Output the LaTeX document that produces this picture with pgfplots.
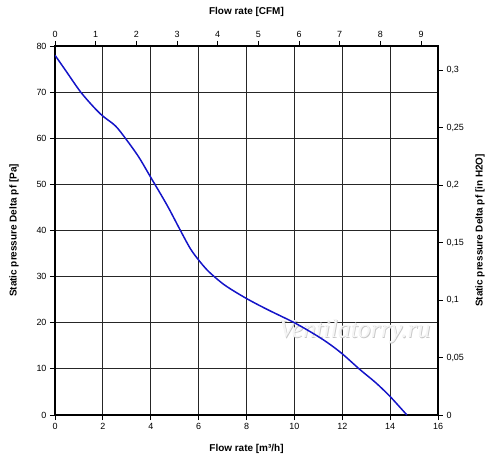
\documentclass[border=0pt]{standalone}
\usepackage{pgfplots}
\pgfplotsset{compat=1.18}
\usepackage{fontspec}
\setmainfont{Liberation Sans}
\newfontfamily\wmfont{Liberation Serif}
\definecolor{curveblue}{RGB}{20,20,200}
\begin{document}
\begin{tikzpicture}
\useasboundingbox (-55bp,-52bp) rectangle (445bp,415bp);
\pgfplotsset{
  common/.style={
    scale only axis, width=383bp, height=369bp,
    /pgf/number format/assume math mode=true,
    tick align=outside,
    major tick length=5bp,
    tick style={black, line width=0.8pt},
    axis line style={-, line width=1.5pt},
    ticklabel style={font=\fontsize{9}{10}\selectfont},
    label style={font=\bfseries\fontsize{10}{12}\selectfont},
  }
}
\begin{axis}[common,
  xmin=0, xmax=16, ymin=0, ymax=80,
  xtick={0,2,...,16}, ytick={0,10,...,80},
  xtick pos=bottom, ytick pos=left,
  grid=major, grid style={black!85, line width=1pt},
  xlabel={Flow rate [m³/h]},
  ylabel={Static pressure Delta pf [Pa]},
  xlabel style={at={(axis description cs:0.5,-0.0921)}, anchor=center},
  ylabel style={at={(axis description cs:-0.107,0.5)}, anchor=center},
]
\node[font=\wmfont\itshape\fontsize{26}{26}\selectfont, text=gray!45] at (axis cs:12.55,18.0) {Ventilatorry.ru};
\node[font=\wmfont\itshape\fontsize{26}{26}\selectfont, text=gray!8, xshift=-0.7bp, yshift=0.7bp] at (axis cs:12.55,18.0) {Ventilatorry.ru};
\addplot[curveblue, line width=1.5pt, smooth] coordinates {
(0,78.0) (0.43,74.8) (1.06,70.1) (1.61,66.8) (2.0,64.8) (2.52,62.7)
(2.94,60.0) (3.49,56.0) (3.98,51.7) (4.68,45.5) (5.23,40.1) (5.65,36.1)
(6.0,33.6) (6.42,31.1) (7.08,28.2) (7.95,25.4) (8.86,22.9) (10.04,19.9)
(11.0,17.0) (11.57,15.0) (12.06,13.0) (12.75,9.8) (13.4,7.0) (14.0,4.0) (14.7,0)
};
\end{axis}
\begin{axis}[common,
  xmin=0, xmax=9.4176, ymin=0, ymax=0.32117,
  axis x line*=top, axis y line*=right,
  xtick={0,1,...,9},
  ytick={0,0.05,0.1,0.15,0.2,0.25,0.3},
  yticklabels={{0},{0,05},{0,1},{0,15},{0,2},{0,25},{0,3}},
  xlabel={Flow rate [CFM]},
  ylabel={Static pressure Delta pf [in H2O]},
  xlabel style={at={(axis description cs:0.5,1.0921)}, anchor=center},
  ylabel style={at={(axis description cs:1.1097,0.5)}, anchor=center},
]
\end{axis}
\end{tikzpicture}
\end{document}
